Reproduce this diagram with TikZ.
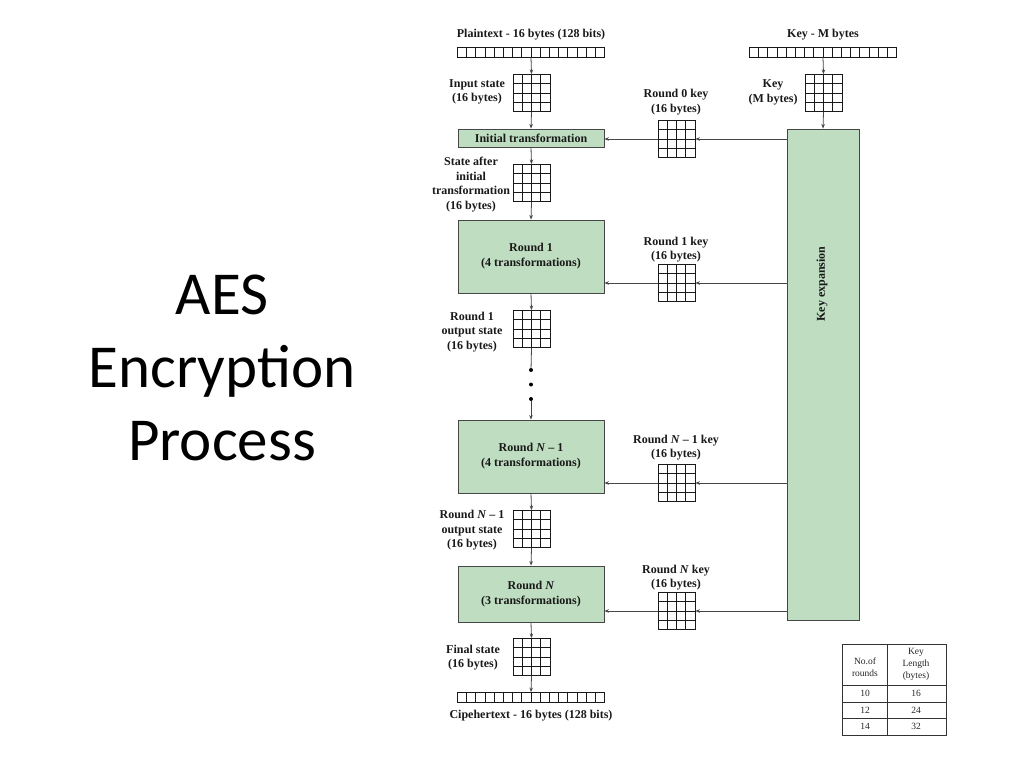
\documentclass[tikz,border=0pt]{standalone}
\usepackage{fontspec}
\setmainfont{Liberation Serif}
\newfontfamily\titlefont{Carlito}
\usetikzlibrary{arrows.meta,calc}
\definecolor{boxgreen}{RGB}{191,222,193}
\definecolor{edgegray}{RGB}{70,70,70}
\begin{document}
\begin{tikzpicture}[x=1pt,y=-1pt,
  lbl/.style={font=\bfseries\fontsize{12}{14.5}\selectfont, align=center, inner sep=0pt, text=black!90},
  arr/.style={draw=edgegray, line width=0.8pt, -{Stealth[length=4.5pt,width=3.5pt]}},
  ln/.style={draw=edgegray, line width=0.8pt},
  stepbox/.style={draw=edgegray, line width=0.8pt, fill=boxgreen, inner sep=0pt, text=black!90,
    font=\bfseries\fontsize{12}{15}\selectfont, align=center, minimum width=146pt},
  grid4/.style={draw=black!90, line width=0.85pt, minimum width=37pt, minimum height=37pt, inner sep=0pt,
    path picture={
      \foreach \i in {1,2,3}{
        \draw[black!90, line width=0.85pt]
          ($(path picture bounding box.north west)!\i/4!(path picture bounding box.north east)$) --
          ($(path picture bounding box.south west)!\i/4!(path picture bounding box.south east)$);
        \draw[black!90, line width=0.85pt]
          ($(path picture bounding box.north west)!\i/4!(path picture bounding box.south west)$) --
          ($(path picture bounding box.north east)!\i/4!(path picture bounding box.south east)$);
      }}},
  bytebar/.style={draw=black!90, line width=0.8pt, minimum width=147pt, minimum height=10pt, inner sep=0pt,
    path picture={
      \foreach \i in {1,...,15}{
        \draw[black!90, line width=0.8pt]
          ($(path picture bounding box.north west)!\i/16!(path picture bounding box.north east)$) --
          ($(path picture bounding box.south west)!\i/16!(path picture bounding box.south east)$);
      }}},
  tbl/.style={font=\fontsize{9.5}{12}\selectfont, align=center, inner sep=0pt, text=black!85},
  dot/.style={circle, fill=black, inner sep=0pt, minimum size=4pt}
]
\useasboundingbox (0,0) rectangle (1024,768);

% title
\node[font=\titlefont\fontsize{61}{73}\selectfont, align=center] (title) at (222,368) {AES\\Encryption\\Process};

% ---------- left column ----------
\node[lbl] (ptlab) at (531,35) {Plaintext - 16 bytes (128 bits)};
\node[bytebar] (ptbar) at (531,52) {};
\node[grid4] (ingrid) at (531.5,93) {};
\node[lbl] (inlab) at (477,92) {Input state\\(16 bytes)};
\node[stepbox, minimum height=18pt] (init) at (531,138) {Initial transformation};
\node[grid4] (sgrid) at (531.5,183) {};
\node[lbl] (slab) at (471,184.5) {State after\\initial\\transformation\\(16 bytes)};
\node[stepbox, minimum height=73pt] (r1) at (531,256.5) {Round 1\\(4 transformations)};
\node[grid4] (r1grid) at (531.5,329) {};
\node[lbl] (r1lab) at (472,332) {Round 1\\output state\\(16 bytes)};
\node[dot] (dot1) at (531,370) {};
\node[dot] (dot2) at (531,384.5) {};
\node[dot] (dot3) at (531,399) {};
\node[stepbox, minimum height=73pt] (rn1) at (531,456.5) {Round \textit{N} – 1\\(4 transformations)};
\node[grid4] (rn1grid) at (531.5,529) {};
\node[lbl] (rn1lab) at (472,530.5) {Round \textit{N} – 1\\output state\\(16 bytes)};
\node[stepbox, minimum height=56pt] (rn) at (531,594) {Round \textit{N}\\(3 transformations)};
\node[grid4] (fgrid) at (531.5,657) {};
\node[lbl] (flab) at (473,657.5) {Final state\\(16 bytes)};
\node[bytebar] (ctbar) at (531,697.5) {};
\node[lbl] (ctlab) at (531,716) {Cipehertext - 16 bytes (128 bits)};

\draw[arr] (ptbar.south) -- (ingrid.north);
\draw[arr] (ingrid.south) -- (init.north);
\draw[arr] (init.south) -- (sgrid.north);
\draw[arr] (sgrid.south) -- (r1.north);
\draw[arr] (r1.south) -- (r1grid.north);
\draw[ln] (r1grid.south) -- (dot1);
\draw[arr] (dot3) -- (rn1.north);
\draw[arr] (rn1.south) -- (rn1grid.north);
\draw[arr] (rn1grid.south) -- (rn.north);
\draw[arr] (rn.south) -- (fgrid.north);
\draw[arr] (fgrid.south) -- (ctbar.north);

% ---------- key side ----------
\node[lbl] (klab) at (823,35) {Key - M bytes};
\node[bytebar] (kbar) at (823,52) {};
\node[grid4] (kgrid) at (823.5,93) {};
\node[lbl] (kglab) at (773,92.5) {Key\\(M bytes)};
\node[stepbox, minimum width=72pt, minimum height=491pt] (kexp) at (823,374.5) {};
\node[lbl, rotate=90] (kexplab) at (822,284) {Key expansion};

\node[grid4] (k0) at (676.5,139) {};
\node[lbl] (k0lab) at (676,102) {Round 0 key\\(16 bytes)};
\node[grid4] (k1) at (676.5,283) {};
\node[lbl] (k1lab) at (676,249.5) {Round 1 key\\(16 bytes)};
\node[grid4] (kn1) at (676.5,483) {};
\node[lbl] (kn1lab) at (676,447.5) {Round \textit{N} – 1 key\\(16 bytes)};
\node[grid4] (kn) at (676.5,611) {};
\node[lbl] (knlab) at (676,577.5) {Round \textit{N} key\\(16 bytes)};

\draw[arr] (kbar.south) -- (kgrid.north);
\draw[arr] (kgrid.south) -- (kexp.north);
\draw[arr] (kexp.west |- k0) -- (k0.east);
\draw[arr] (k0.west) -- (init.east |- k0);
\draw[arr] (kexp.west |- k1) -- (k1.east);
\draw[arr] (k1.west) -- (r1.east |- k1);
\draw[arr] (kexp.west |- kn1) -- (kn1.east);
\draw[arr] (kn1.west) -- (rn1.east |- kn1);
\draw[arr] (kexp.west |- kn) -- (kn.east);
\draw[arr] (kn.west) -- (rn.east |- kn);

% ---------- table ----------
\draw[black!80, line width=0.6pt] (842,644) rectangle (946,735);
\draw[black!80, line width=0.6pt] (887,644) -- (887,735);
\draw[black!80, line width=0.6pt] (842,685) -- (946,685);
\draw[black!80, line width=0.6pt] (842,702) -- (946,702);
\draw[black!80, line width=0.6pt] (842,718) -- (946,718);
\node[tbl] (h1) at (865,667) {No.of\\rounds};
\node[tbl] (h2) at (916,664) {Key\\Length\\(bytes)};
\node[tbl] (a1) at (865,693.5) {10};
\node[tbl] (b1) at (916,693.5) {16};
\node[tbl] (a2) at (865,710) {12};
\node[tbl] (b2) at (916,710) {24};
\node[tbl] (a3) at (865,726.5) {14};
\node[tbl] (b3) at (916,726.5) {32};
\end{tikzpicture}
\end{document}
